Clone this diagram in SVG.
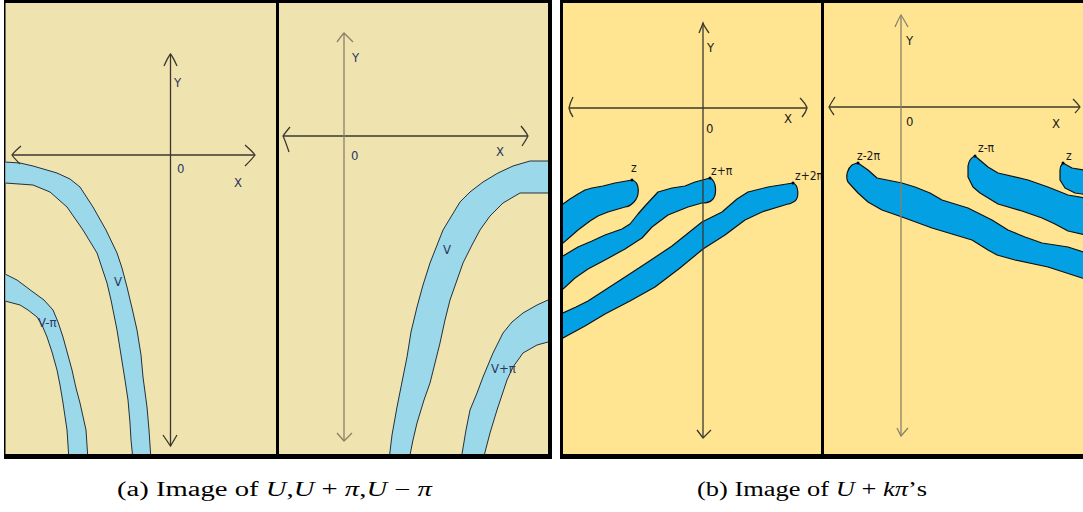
<svg xmlns="http://www.w3.org/2000/svg" width="1083" height="512" viewBox="0 0 1083 512">
<style>
.frame{fill:#000}
.bgA{fill:#EFE3AF}
.bgB{fill:#FFE591}
.bandA{fill:#9AD8EA;stroke:#24303a;stroke-width:1;stroke-linejoin:round}
.bandB{fill:#03A1E3;stroke:#111;stroke-width:1.2;stroke-linejoin:round}
.ax{fill:none;stroke:#3a382e;stroke-width:1.3}
.axg{fill:none;stroke:#8a8068;stroke-width:1.3}
.lblA{font-family:"DejaVu Sans Condensed","DejaVu Sans",sans-serif;font-stretch:condensed;font-size:13px;fill:#2a3760}
.lblB{font-family:"DejaVu Sans Condensed","DejaVu Sans",sans-serif;font-stretch:condensed;font-size:13px;fill:#1a1a1a}
.zl{font-family:"DejaVu Sans Condensed","DejaVu Sans",sans-serif;font-stretch:condensed;font-size:12px;fill:#1a1a1a}
.cap{font-family:"Liberation Serif","Times New Roman",serif;font-size:20px;fill:#000}
.dot{fill:#000}
</style>
<defs>
<clipPath id="c1"><rect x="5.5" y="3" width="270.5" height="451"/></clipPath>
<clipPath id="c2"><rect x="279" y="3" width="269" height="451"/></clipPath>
<clipPath id="c3"><rect x="563" y="3" width="258" height="451"/></clipPath>
<clipPath id="c4"><rect x="824" y="3" width="259" height="451"/></clipPath>
</defs>

<!-- frames -->
<rect class="frame" x="4" y="0" width="548" height="459"/>
<rect class="frame" x="560" y="0" width="523" height="459"/>
<rect class="bgA" x="5.5" y="3" width="270.5" height="451"/>
<rect class="bgA" x="279" y="3" width="269" height="451"/>
<rect class="bgB" x="563" y="3" width="258" height="451"/>
<rect class="bgB" x="824" y="3" width="259" height="451"/>

<!-- panel a, left -->
<g id="panel-a1" clip-path="url(#c1)">
  <path class="bandA" d="M0,161 L5,162 L20,163 L33,166 L57,173 L70,179 L80,187 L93,207 L106,230 L117,253 L122,268 L127,287 L132,308 L137,330 L141,355 L143,377 L147,407 L149,430 L151,460 L133,460 L131,440 L130,423 L128,400 L125,380 L121,355 L117,330 L111,300 L107,283 L97,253 L83,230 L67,207 L50,192 L33,185 L5,183 L0,183 Z"/>
  <path class="bandA" d="M0,272 L5,274 L17,280 L33,292 L44,300 L53,310 L58,322 L63,337 L72,370 L76,388 L80,403 L86,430 L88,460 L69,460 L67,430 L63,403 L60,385 L57,370 L52,352 L47,337 L42,325 L37,317 L28,310 L20,305 L5,301 L0,300 Z"/>
  <path class="ax" d="M12,155 H255"/>
  <path class="ax" d="M21,146 Q14,152 12,155 Q14,158 20,164"/>
  <path class="ax" d="M245,145 Q253,152 255,155 Q253,158 245,166"/>
  <path class="ax" d="M170.5,54 V446"/>
  <path class="ax" d="M164,66 Q168,57 170.5,54 Q173,57 177,66"/>
  <path class="ax" d="M163,435 L170.5,446 L177,435"/>
  <text class="lblA" x="174" y="87">Y</text>
  <text class="lblA" x="177" y="173">0</text>
  <text class="lblA" x="234" y="187">X</text>
  <text class="lblA" x="114" y="286">V</text>
  <text class="lblA" x="38" y="327">V-π</text>
</g>

<!-- panel a, right -->
<g id="panel-a2" clip-path="url(#c2)">
  <path class="bandA" d="M556,160 L548,161 L530,161 L513,166 L498,173 L483,182 L470,192 L460,202 L443,230 L430,263 L423,285 L417,307 L411,332 L407,357 L402,382 L397,407 L392,435 L389,460 L409,460 L413,440 L417,423 L424,400 L430,383 L440,343 L445,320 L450,300 L463,263 L472,245 L480,230 L490,216 L503,203 L520,193 L556,193 Z"/>
  <path class="bandA" d="M556,298 L548,300 L537,305 L523,313 L512,322 L503,333 L493,353 L483,377 L477,393 L470,410 L466,430 L461,460 L483,460 L490,433 L497,410 L503,392 L507,380 L513,367 L523,353 L537,345 L548,342 L556,342 Z"/>
  <path class="ax" d="M283,136 H528"/>
  <path class="ax" d="M290,127 Q285,133 283,136 Q285,140 289,152"/>
  <path class="ax" d="M521,126 Q526,132 528,136 Q526,140 522,146"/>
  <path class="axg" d="M344,33 V441"/>
  <path class="axg" d="M337,42 Q342,35 344,33 Q346,35 353,42"/>
  <path class="axg" d="M337,433 L344,441 L352,433"/>
  <text class="lblA" x="352" y="62">Y</text>
  <text class="lblA" x="351" y="160">0</text>
  <text class="lblA" x="496" y="156">X</text>
  <text class="lblA" x="443" y="254">V</text>
  <text class="lblA" x="491" y="373">V+π</text>
</g>

<!-- panel b, left -->
<g id="panel-b1" clip-path="url(#c3)">
  <path class="bandB" d="M555,210 L563,204 L570,199 L578,194 L585,190 L592,188 L603,186 L615,183 L632,180 C640,182 640,196 634,202 C630,206 627,207 625,207 L608,212 L598,216 L590,221 L578,230 L570,237 L563,243 L555,250 Z"/>
  <path class="bandB" d="M555,260 L563,256 L578,247 L592,241 L605,235 L622,229 L630,224 L638,214 L645,206 L658,192 L672,188 L685,186 L695,182 L710,178 C717,181 717,196 712,200 C709,203 705,203 702,203 L688,207 L668,215 L652,227 L642,238 L625,249 L605,260 L588,269 L575,278 L563,289 L555,293 Z"/>
  <path class="bandB" d="M555,316 L563,313 L576,307 L588,301 L605,290 L622,279 L648,262 L672,246 L692,230 L702,222 L708,219 L722,212 L737,199 L748,192 L768,187 L793,183 C799,185 799,198 795,201 C792,203 790,204 788,204 L762,212 L745,220 L725,235 L703,249 L680,268 L655,287 L630,301 L605,314 L585,326 L563,338 L555,342 Z"/>
  <path class="ax" d="M569,108 H807"/>
  <path class="ax" d="M573,97 Q570,103 569,108 Q570,113 573,117"/>
  <path class="ax" d="M800,98 Q806,104 807,108 Q806,112 802,117"/>
  <path class="ax" d="M703,23 V438"/>
  <path class="ax" d="M699,33 Q702,26 703,23 Q704,26 709,33"/>
  <path class="ax" d="M697,430 L703,438 L711,430"/>
  <text class="lblB" x="707" y="52">Y</text>
  <text class="lblB" x="706" y="133">0</text>
  <text class="lblB" x="784" y="123">X</text>
  <circle class="dot" cx="632" cy="180" r="1.5"/>
  <circle class="dot" cx="710" cy="178" r="1.5"/>
  <circle class="dot" cx="793" cy="183" r="1.5"/>
  <text class="zl" x="631" y="172">z</text>
  <text class="zl" x="711" y="175">z+π</text>
  <text class="zl" x="795" y="180">z+2π</text>
</g>

<!-- panel b, right -->
<g id="panel-b2" clip-path="url(#c4)">
  <path class="bandB" d="M858,163 L868,170 L877,178 L902,183 L915,187 L930,193 L942,200 L968,208 L992,220 L1008,230 L1025,237 L1042,243 L1068,247 L1090,254 L1090,280 L1082,278 L1048,267 L1015,260 L997,255 L988,250 L972,240 L952,234 L932,228 L902,217 L882,210 L868,202 L858,193 L848,182 C845,176 848,168 852,165 C854,164 856,163 858,163 Z"/>
  <path class="bandB" d="M975,156 L988,167 L998,173 L1028,180 L1048,187 L1068,195 L1090,199 L1090,236 L1068,231 L1055,224 L1042,218 L1022,211 L998,204 L980,193 L973,187 L968,177 L968,166 C969,160 972,157 975,156 Z"/>
  <path class="bandB" d="M1063,163 L1072,168 L1090,171 L1090,195 L1082,194 L1075,193 L1065,188 L1060,180 L1060,170 C1060,166 1062,164 1063,163 Z"/>
  <path class="ax" d="M829,107 H1080"/>
  <path class="ax" d="M835,97 Q831,103 829,107 Q831,111 834,115"/>
  <path class="ax" d="M1073,99 Q1078,104 1080,107 Q1078,110 1075,113"/>
  <path class="axg" d="M901,15 V436"/>
  <path class="axg" d="M895,27 Q899,18 901,15 Q903,18 908,27"/>
  <path class="axg" d="M897,428 L901,436 L908,428"/>
  <text class="lblB" x="906" y="45">Y</text>
  <text class="lblB" x="906" y="126">0</text>
  <text class="lblB" x="1052" y="128">X</text>
  <circle class="dot" cx="858" cy="163" r="1.5"/>
  <circle class="dot" cx="975" cy="156" r="1.5"/>
  <circle class="dot" cx="1063" cy="163" r="1.5"/>
  <text class="zl" x="857" y="160">z-2π</text>
  <text class="zl" x="978" y="152">z-π</text>
  <text class="zl" x="1066" y="160">z</text>
</g>

<!-- captions -->
<text class="cap" x="117" y="496" textLength="315" lengthAdjust="spacingAndGlyphs">(a) Image of <tspan font-style="italic">U</tspan>,<tspan font-style="italic">U</tspan> + <tspan font-style="italic">π</tspan>,<tspan font-style="italic">U</tspan> − <tspan font-style="italic">π</tspan></text>
<text class="cap" x="697" y="496" textLength="230" lengthAdjust="spacingAndGlyphs">(b) Image of <tspan font-style="italic">U</tspan> + <tspan font-style="italic">kπ</tspan>’s</text>
</svg>
